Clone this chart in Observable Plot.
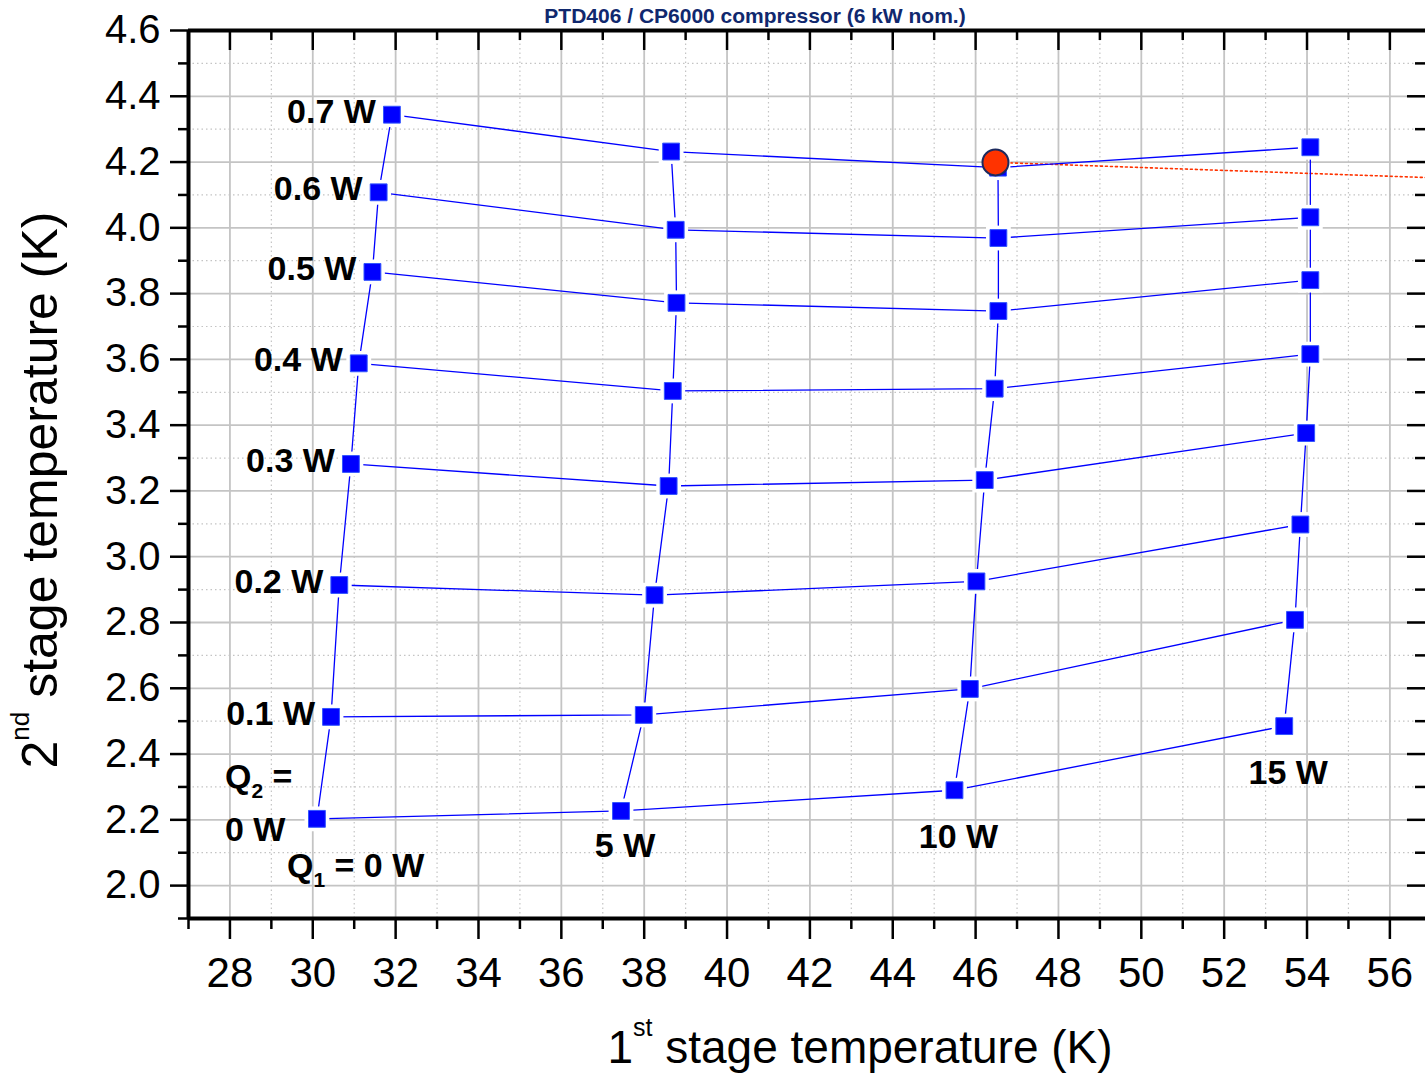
<!DOCTYPE html>
<html><head><meta charset="utf-8">
<script src="https://cdn.jsdelivr.net/npm/d3@7"></script>
<script src="https://cdn.jsdelivr.net/npm/@observablehq/plot@0.6"></script>
<style>html,body{margin:0;padding:0;background:#fff;overflow:hidden}</style>
</head><body><div id="chart"></div>
<script>
// ---- data ----
const q1Loads = [0, 5, 10, 15];                       // 1st stage heat load (W)
const q2Loads = [0, 0.1, 0.2, 0.3, 0.4, 0.5, 0.6, 0.7]; // 2nd stage heat load (W)
// temperatures per 1st-stage load column, indexed by q2Loads
const t1AtQ1_0  = [30.10, 30.44, 30.64, 30.92, 31.11, 31.44, 31.59, 31.91];
const t2AtQ1_0  = [2.203, 2.513, 2.914, 3.282, 3.588, 3.866, 4.108, 4.344];
const t1AtQ1_5  = [37.44, 37.99, 38.25, 38.59, 38.69, 38.78, 38.76, 38.65];
const t2AtQ1_5  = [2.227, 2.519, 2.883, 3.215, 3.504, 3.772, 3.994, 4.232];
const t1AtQ1_10 = [45.49, 45.86, 46.02, 46.22, 46.46, 46.55, 46.55, 46.54];
const t2AtQ1_10 = [2.290, 2.598, 2.925, 3.233, 3.511, 3.747, 3.969, 4.183];
const t1AtQ1_15 = [53.45, 53.71, 53.84, 53.98, 54.08, 54.08, 54.08, 54.08];
const t2AtQ1_15 = [2.485, 2.808, 3.098, 3.376, 3.616, 3.841, 4.032, 4.245];
// operating point and its trend line
const opT1 = [46.48];
const opT2 = [4.199];
const trendT1 = [46.48, 56.86];
const trendT2 = [4.199, 4.153];
// ticks
const xTicks = [28, 30, 32, 34, 36, 38, 40, 42, 44, 46, 48, 50, 52, 54, 56];
const xMinor = [27, 29, 31, 33, 35, 37, 39, 41, 43, 45, 47, 49, 51, 53, 55];
const yTicks = [2.0, 2.2, 2.4, 2.6, 2.8, 3.0, 3.2, 3.4, 3.6, 3.8, 4.0, 4.2, 4.4, 4.6];
const yMinor = [1.9, 2.1, 2.3, 2.5, 2.7, 2.9, 3.1, 3.3, 3.5, 3.7, 3.9, 4.1, 4.3, 4.5];
const titleText = "PTD406 / CP6000 compressor (6 kW nom.)";

// ---- build tables ----
const t1Cols = [t1AtQ1_0, t1AtQ1_5, t1AtQ1_10, t1AtQ1_15];
const t2Cols = [t2AtQ1_0, t2AtQ1_5, t2AtQ1_10, t2AtQ1_15];
const points = q1Loads.flatMap((q1, i) => q2Loads.map((q2, j) => ({q1, q2, t1: t1Cols[i][j], t2: t2Cols[i][j]})));
const opPoint = opT1.map((t1, i) => ({t1, t2: opT2[i]}));
const trend = trendT1.map((t1, i) => ({t1, t2: trendT2[i]}));

const W = 1425, H = 1073, ML = 188, MR = 0, MT = 30, MB = 155;
const PW = W - ML - MR, PH = H - MT - MB;
const FONT = "'Liberation Sans', Arial, Helvetica, sans-serif";
const blue = "#0000ff";
const grid = "#c4c4c4";
const lbl = {fontSize: 34, fontWeight: "bold", fill: "black", fontFamily: FONT};

const chart = Plot.plot({
  width: W, height: H,
  marginLeft: ML, marginRight: MR, marginTop: MT, marginBottom: MB,
  x: {domain: [27, 56.86], label: null},
  y: {domain: [1.9, 4.6], label: null},
  style: {fontFamily: FONT, background: "white", color: "black"},
  marks: [
    // grid
    Plot.ruleX(xMinor, {x: d => d, stroke: grid, strokeWidth: 1.2, strokeDasharray: "1.5,3"}),
    Plot.ruleY(yMinor, {y: d => d, stroke: grid, strokeWidth: 1.2, strokeDasharray: "1.5,3"}),
    Plot.ruleX(xTicks, {x: d => d, stroke: grid, strokeWidth: 1.8}),
    Plot.ruleY(yTicks, {y: d => d, stroke: grid, strokeWidth: 1.8}),
    // trend line
    Plot.line(trend, {x: "t1", y: "t2", stroke: "#ff3300", strokeWidth: 1.6, strokeDasharray: "2,3"}),
    // load map lines
    Plot.line(points, {x: "t1", y: "t2", z: "q2", stroke: blue, strokeWidth: 1.3}),
    Plot.line(points, {x: "t1", y: "t2", z: "q1", stroke: blue, strokeWidth: 1.3}),
    // halo gaps + markers
    Plot.dot(points, {x: "t1", y: "t2", symbol: "square", r: 14, fill: "white", stroke: "none"}),
    Plot.dot(points, {x: "t1", y: "t2", symbol: "square", r: 9.5, fill: blue, stroke: "#3355ff", strokeWidth: 1}),
    Plot.dot(opPoint, {x: "t1", y: "t2", r: 13, fill: "#ff3300", stroke: "#1c2a5e", strokeWidth: 2}),
    // labels
    Plot.text(points.filter(d => d.q1 === 0 && d.q2 > 0), {x: "t1", y: "t2", text: d => `${d.q2} W`, textAnchor: "end", dx: -16, dy: -3, ...lbl}),
    Plot.text(points.filter(d => d.q1 === 0 && d.q2 === 0), {x: "t1", y: "t2", text: d => "Q_2 =", textAnchor: "start", dx: -92, dy: -42, ...lbl}),
    Plot.text(points.filter(d => d.q1 === 0 && d.q2 === 0), {x: "t1", y: "t2", text: d => `${d.q2} W`, textAnchor: "start", dx: -92, dy: 11, ...lbl}),
    Plot.text(points.filter(d => d.q1 === 0 && d.q2 === 0), {x: "t1", y: "t2", text: d => `Q_1 = ${d.q1} W`, textAnchor: "start", dx: -30, dy: 47, ...lbl}),
    Plot.text(points.filter(d => d.q1 === 5 && d.q2 === 0), {x: "t1", y: "t2", text: d => `${d.q1} W`, dx: 4, dy: 35, ...lbl}),
    Plot.text(points.filter(d => d.q1 > 5 && d.q2 === 0), {x: "t1", y: "t2", text: d => `${d.q1} W`, dx: 4, dy: 47, ...lbl}),
    // frame
    Plot.ruleX([27], {x: d => d, stroke: "black", strokeWidth: 4}),
    Plot.ruleY([1.9, 4.6], {y: d => d, stroke: "black", strokeWidth: 4}),
    // axes
    Plot.axisX(xTicks, {anchor: "bottom", tickSize: 21, tickPadding: 18, fontSize: 42, strokeWidth: 2.5, label: null, tickFormat: d => String(d)}),
    Plot.axisX(xMinor, {anchor: "bottom", tickSize: 11, strokeWidth: 2.5, label: null, tickFormat: () => ""}),
    Plot.axisY(yTicks, {anchor: "left", tickSize: 18, tickPadding: 10, fontSize: 40, strokeWidth: 2.5, label: null, tickFormat: d3.format(".1f")}),
    Plot.axisY(yMinor, {anchor: "left", tickSize: 10, strokeWidth: 2.5, label: null, tickFormat: () => ""}),
    // mirrored inward ticks (top and right)
    Plot.tickX(xTicks, {x: d => d, stroke: "black", strokeWidth: 2.5, insetBottom: PH - 20}),
    Plot.tickX(xMinor, {x: d => d, stroke: "black", strokeWidth: 2.5, insetBottom: PH - 10}),
    Plot.tickY(yTicks, {y: d => d, stroke: "black", strokeWidth: 2.5, insetLeft: PW - 18}),
    Plot.tickY(yMinor, {y: d => d, stroke: "black", strokeWidth: 2.5, insetLeft: PW - 10})
  ]
});

const svg = d3.select(chart);
// subscripts (Q_1, Q_2)
svg.selectAll("text").each(function() {
  const t = this.textContent;
  const m = t.match(/^(.*)_(\d)(.*)$/);
  if (m) {
    const s = d3.select(this);
    s.text(null);
    s.append("tspan").text(m[1]);
    s.append("tspan").attr("font-size", 21).attr("dy", 10).text(m[2]);
    s.append("tspan").attr("dy", -10).text(m[3]);
  }
});
// title, kept fully visible in the top margin
svg.append("text").attr("x", 755).attr("y", 23).attr("text-anchor", "middle")
  .attr("font-family", FONT).attr("font-weight", "bold").attr("font-size", 21)
  .attr("fill", "#10286e")
  .text(titleText);
// x axis title
const xl = svg.append("text").attr("x", 860).attr("y", 1063).attr("text-anchor", "middle")
  .attr("font-family", FONT).attr("font-size", 46).attr("fill", "black");
xl.append("tspan").text("1");
xl.append("tspan").attr("font-size", 25).attr("dy", -27).text("st");
xl.append("tspan").attr("dy", 27).text(" stage temperature (K)");
// y axis title
const yl = svg.append("text").attr("transform", "translate(57,490) rotate(-90)").attr("text-anchor", "middle")
  .attr("font-family", FONT).attr("font-size", 50).attr("fill", "black");
yl.append("tspan").text("2");
yl.append("tspan").attr("font-size", 26).attr("dy", -28).text("nd");
yl.append("tspan").attr("dy", 28).text(" stage temperature (K)");

document.getElementById("chart").appendChild(chart);
</script>
</body></html>
